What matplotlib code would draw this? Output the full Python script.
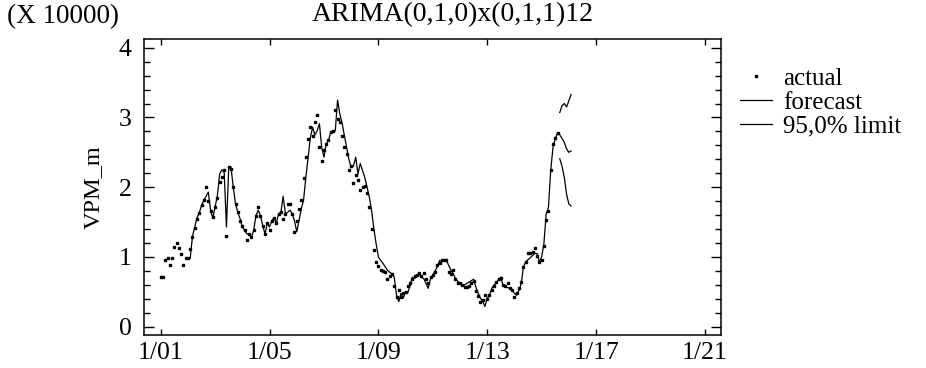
import numpy as np
import matplotlib.pyplot as plt
from matplotlib.ticker import MultipleLocator

plt.rcParams['font.family'] = ['Liberation Serif', 'DejaVu Serif']

# valores mensuales observados (ene 2001 - ago 2015), unidades de 10000
actual = [
    0.71, 0.71, 0.95, 0.99, 0.89, 0.99, 1.14, 1.20, 1.13, 1.04, 0.89, 0.99,  # 2001
    0.98, 1.12, 1.29, 1.42, 1.55, 1.63, 1.74, 1.81, 2.00, 1.80, 1.66, 1.57,  # 2002
    1.72, 1.85, 2.07, 2.15, 2.24, 1.30, 2.29, 2.26, 2.00, 1.76, 1.64, 1.52,  # 2003
    1.45, 1.38, 1.24, 1.33, 1.28, 1.38, 1.59, 1.71, 1.59, 1.45, 1.33, 1.48,  # 2004
    1.38, 1.52, 1.56, 1.48, 1.62, 1.64, 1.54, 1.62, 1.76, 1.76, 1.62, 1.36,  # 2005
    1.52, 1.69, 1.81, 2.13, 2.43, 2.69, 2.86, 2.74, 2.93, 3.04, 2.57, 2.38,  # 2006
    2.53, 2.62, 2.67, 2.79, 2.81, 3.10, 2.98, 2.93, 2.74, 2.58, 2.48, 2.24,  # 2007
    2.30, 2.06, 2.17, 2.10, 1.96, 2.00, 2.02, 1.91, 1.72, 1.40, 1.10, 0.93,  # 2008
    0.87, 0.82, 0.80, 0.79, 0.69, 0.72, 0.75, 0.59, 0.43, 0.53, 0.43, 0.48,  # 2009
    0.50, 0.59, 0.62, 0.69, 0.72, 0.74, 0.77, 0.72, 0.77, 0.69, 0.62, 0.71,  # 2010
    0.74, 0.78, 0.88, 0.91, 0.96, 0.95, 0.95, 0.79, 0.76, 0.81, 0.69, 0.62,  # 2011
    0.62, 0.60, 0.57, 0.57, 0.59, 0.62, 0.66, 0.51, 0.44, 0.36, 0.38, 0.45,  # 2012
    0.40, 0.45, 0.52, 0.59, 0.64, 0.68, 0.70, 0.60, 0.58, 0.62, 0.55, 0.52,  # 2013
    0.42, 0.48, 0.55, 0.64, 0.85, 0.93, 1.05, 1.05, 1.07, 1.13, 1.02, 0.93,  # 2014
    0.96, 1.16, 1.53, 1.66, 2.25, 2.62, 2.70, 2.78,                          # 2015
]

# pronostico (ajuste a un paso desde feb 2002, luego pronostico hasta feb 2016)
forecast = [
    0.98, 1.29, 1.43, 1.56, 1.63, 1.74, 1.81, 1.87, 1.93, 1.67, 1.56,        # 2002
    1.72, 1.88, 2.19, 2.25, 2.21, 1.43, 2.28, 2.29, 2.00, 1.76, 1.64, 1.55,  # 2003
    1.43, 1.38, 1.33, 1.33, 1.28, 1.38, 1.59, 1.67, 1.59, 1.45, 1.33, 1.48,  # 2004
    1.43, 1.52, 1.56, 1.48, 1.62, 1.64, 1.87, 1.62, 1.64, 1.67, 1.62, 1.52,  # 2005
    1.36, 1.52, 1.69, 1.81, 2.14, 2.43, 2.71, 2.86, 2.75, 2.81, 2.91, 2.57,  # 2006
    2.43, 2.62, 2.67, 2.79, 2.81, 2.81, 3.25, 3.05, 2.92, 2.74, 2.57, 2.40,  # 2007
    2.28, 2.30, 2.43, 2.19, 2.34, 2.24, 2.14, 2.00, 1.86, 1.67, 1.41, 1.19,  # 2008
    1.00, 0.95, 0.91, 0.86, 0.81, 0.78, 0.76, 0.71, 0.45, 0.36, 0.48, 0.41,  # 2009
    0.50, 0.49, 0.59, 0.71, 0.69, 0.72, 0.76, 0.71, 0.69, 0.62, 0.55, 0.69,  # 2010
    0.74, 0.80, 0.86, 0.95, 0.93, 0.95, 0.95, 0.88, 0.81, 0.76, 0.69, 0.65,  # 2011
    0.62, 0.58, 0.60, 0.62, 0.64, 0.66, 0.68, 0.57, 0.48, 0.41, 0.36, 0.29,  # 2012
    0.41, 0.45, 0.55, 0.60, 0.62, 0.68, 0.71, 0.59, 0.57, 0.56, 0.55, 0.52,  # 2013
    0.48, 0.45, 0.52, 0.62, 0.86, 0.93, 0.96, 0.99, 1.02, 1.05, 1.05, 0.93,  # 2014
    1.00, 1.19, 1.62, 1.71, 2.24, 2.57, 2.69, 2.78, 2.75, 2.70, 2.64, 2.55,  # 2015
    2.50, 2.52,                                                              # 2016
]

# limites del 95% (sep 2015 - feb 2016)
upper = [3.07, 3.17, 3.20, 3.15, 3.24, 3.33]
lower = [2.41, 2.30, 2.14, 1.90, 1.76, 1.73]

t_actual = 2001 + np.arange(len(actual)) / 12
t_forecast = 2001 + (13 + np.arange(len(forecast))) / 12
t_limits = 2001 + (len(actual) + np.arange(len(upper))) / 12

xticks = [2001, 2005, 2009, 2013, 2017, 2021]
xticklabels = ["1/01", "1/05", "1/09", "1/13", "1/17", "1/21"]

fig = plt.figure(figsize=(9.26, 3.68), dpi=100)
ax = fig.add_axes([0.1555, 0.0897, 0.623, 0.8043])

ax.plot(t_actual, actual, linestyle='none', marker='s', ms=2.0, color='black', label='actual')
ax.plot(t_forecast, forecast, color='black', lw=0.9, label='forecast')
ax.plot(t_limits, upper, color='black', lw=0.9, label='95,0% limit')
ax.plot(t_limits, lower, color='black', lw=0.9)

ax.set_xlim(2000.386, 2021.588)
ax.set_ylim(-0.119, 4.125)
ax.set_xticks(xticks)
ax.set_xticklabels(xticklabels)
ax.set_yticks([0, 1, 2, 3, 4])
ax.yaxis.set_minor_locator(MultipleLocator(0.2))

ax.tick_params(axis='x', direction='in', length=4.5, width=1, top=True, labelsize=18.5, pad=5)
ax.tick_params(axis='y', which='major', direction='in', length=7, width=1, right=True, labelsize=18.5, pad=9)
ax.tick_params(axis='y', which='minor', direction='in', length=4, width=1, right=True)
for s in ax.spines.values():
    s.set_linewidth(1.1)

fig.text(453 / 926, 1 - 15 / 368, "ARIMA(0,1,0)x(0,1,1)12", fontsize=20, ha='center', va='center')
fig.text(93 / 926, 1 - 187 / 368, "VPM_m", rotation=90, fontsize=17.5, ha='center', va='center')
fig.text(7 / 926, 1 - 17 / 368, "(X 10000)", fontsize=19.5, ha='left', va='center')

ax.legend(loc='upper left', bbox_to_anchor=(727 / 926, 1 - 55 / 368), bbox_transform=fig.transFigure,
          frameon=False, fontsize=18, handlelength=1.3, handletextpad=0.45, labelspacing=0.05,
          borderpad=0, markerscale=1.0)

fig.savefig("out.png", dpi=100)
